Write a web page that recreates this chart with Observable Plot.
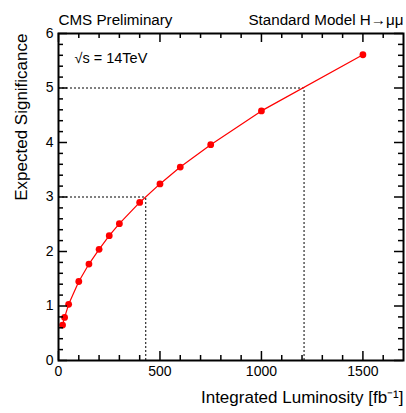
<!DOCTYPE html>
<html>
<head>
<meta charset="utf-8">
<script src="https://cdn.jsdelivr.net/npm/d3@7"></script>
<script src="https://cdn.jsdelivr.net/npm/@observablehq/plot@0.6"></script>
<style>
  html, body { margin: 0; padding: 0; background: white; }
  svg { display: block; }
</style>
</head>
<body>
<div id="chart"></div>
<script>
// Data
const luminosity = [20, 30, 50, 100, 150, 200, 250, 300, 400, 500, 600, 750, 1000, 1500];
const significance = [0.65, 0.79, 1.03, 1.45, 1.77, 2.04, 2.29, 2.51, 2.90, 3.24, 3.55, 3.96, 4.58, 5.61];
const refSignificance = [3, 5];
const refLuminosity = [430, 1210];
const xMajorTicks = [0, 500, 1000, 1500];
const xMinorTicks = [100, 200, 300, 400, 600, 700, 800, 900, 1100, 1200, 1300, 1400, 1600];
const yMajorTicks = [0, 1, 2, 3, 4, 5, 6];
const yMinorTicks = [0.2, 0.4, 0.6, 0.8, 1.2, 1.4, 1.6, 1.8, 2.2, 2.4, 2.6, 2.8, 3.2, 3.4, 3.6, 3.8, 4.2, 4.4, 4.6, 4.8, 5.2, 5.4, 5.6, 5.8];
const titleLeft = "CMS Preliminary";
const titleRight = "Standard Model H\u2192\u03bc\u03bc";
const energyLabel = "\u221as = 14TeV";
const xLabel = "Integrated Luminosity [fb\u207b\u00b9]";
const yLabel = "Expected Significance";

const points = luminosity.map((l, i) => ({lumi: l, sig: significance[i]}));
const refs = refSignificance.map((s, i) => ({sig: s, lumi: refLuminosity[i]}));

const W = 406, H = 413, mt = 33, mb = 53, ml = 58, mr = 3;
const ph = H - mt - mb, pw = W - ml - mr;
const major = 9, minor = 5;
const font = "'Liberation Sans', Arial, Helvetica, sans-serif";

const chart = Plot.plot({
  width: W, height: H,
  marginTop: mt, marginBottom: mb, marginLeft: ml, marginRight: mr,
  x: {domain: [0, 1700]},
  y: {domain: [0, 6]},
  style: {fontFamily: font, fontSize: "14px", background: "white", color: "black", overflow: "visible"},
  marks: [
    Plot.ruleY(refs, {y: "sig", x1: 0, x2: "lumi", stroke: "black", strokeWidth: 1, strokeDasharray: "2,2"}),
    Plot.ruleX(refs, {x: "lumi", y1: 0, y2: "sig", stroke: "black", strokeWidth: 1, strokeDasharray: "2,2"}),
    Plot.line(points, {x: "lumi", y: "sig", stroke: "#ff0000", strokeWidth: 1.2}),
    Plot.dot(points, {x: "lumi", y: "sig", r: 3.4, fill: "#ff0000", stroke: "none"}),
    // inward ticks, bottom and top
    Plot.tickX(xMajorTicks, {x: d => d, insetTop: ph - major, strokeWidth: 1.5}),
    Plot.tickX(xMajorTicks, {x: d => d, insetBottom: ph - major, strokeWidth: 1.5}),
    Plot.tickX(xMinorTicks, {x: d => d, insetTop: ph - minor, strokeWidth: 1.5}),
    Plot.tickX(xMinorTicks, {x: d => d, insetBottom: ph - minor, strokeWidth: 1.5}),
    // inward ticks, left and right
    Plot.tickY(yMajorTicks, {y: d => d, insetRight: pw - major, strokeWidth: 1.5}),
    Plot.tickY(yMajorTicks, {y: d => d, insetLeft: pw - major, strokeWidth: 1.5}),
    Plot.tickY(yMinorTicks, {y: d => d, insetRight: pw - minor, strokeWidth: 1.5}),
    Plot.tickY(yMinorTicks, {y: d => d, insetLeft: pw - minor, strokeWidth: 1.5}),
    Plot.frame({stroke: "black", strokeWidth: 2}),
    Plot.axisX({ticks: xMajorTicks, tickSize: 0, tickPadding: 6, label: null, fontSize: 14, tickFormat: d3.format("d")}),
    Plot.axisY({ticks: yMajorTicks, tickSize: 0, tickPadding: 5, label: null, fontSize: 14, tickFormat: d3.format("d")}),
    Plot.text([titleLeft], {frameAnchor: "top-left", dy: -19, textAnchor: "start", fontSize: 15.2}),
    Plot.text([titleRight], {frameAnchor: "top-right", dy: -19, textAnchor: "end", fontSize: 15.2}),
    Plot.text([energyLabel], {frameAnchor: "top-left", dx: 16, dy: 19, textAnchor: "start", fontSize: 14.5}),
    Plot.text([xLabel], {frameAnchor: "bottom-right", dy: 42, textAnchor: "end", fontSize: 17}),
    Plot.text([yLabel], {frameAnchor: "top-left", dx: -44, textAnchor: "end", rotate: -90, fontSize: 17})
  ]
});
document.getElementById("chart").appendChild(chart);
</script>
</body>
</html>
